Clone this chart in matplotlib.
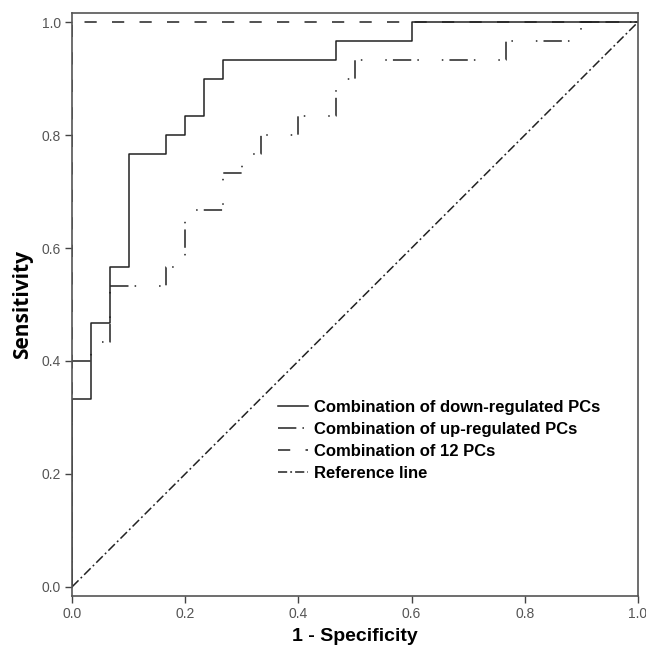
import matplotlib
matplotlib.use("Agg")
import matplotlib.pyplot as plt

# ROC curve data (steps of 1/30)
down_fpr = [0, 0, 1/30, 1/30, 2/30, 2/30, 3/30, 3/30, 5/30, 5/30, 6/30, 6/30,
            7/30, 7/30, 8/30, 8/30, 14/30, 14/30, 18/30, 18/30, 1.0]
down_tpr = [0, 10/30, 10/30, 14/30, 14/30, 17/30, 17/30, 23/30, 23/30, 24/30, 24/30, 25/30,
            25/30, 27/30, 27/30, 28/30, 28/30, 29/30, 29/30, 1.0, 1.0]

up_fpr = [0, 0, 1/30, 1/30, 2/30, 2/30, 5/30, 5/30, 6/30, 6/30, 8/30, 8/30, 9/30, 9/30,
          10/30, 10/30, 12/30, 12/30, 14/30, 14/30, 15/30, 15/30, 23/30, 23/30, 27/30, 27/30, 1.0]
up_tpr = [0, 12/30, 12/30, 13/30, 13/30, 16/30, 16/30, 17/30, 17/30, 20/30, 20/30, 22/30, 22/30, 23/30,
          23/30, 24/30, 24/30, 25/30, 25/30, 27/30, 27/30, 28/30, 28/30, 29/30, 29/30, 1.0, 1.0]

all_fpr = [0, 0, 1.0]
all_tpr = [0, 1.0, 1.0]

ref_x = [0, 1]
ref_y = [0, 1]

labels = ["Combination of down-regulated PCs", "Combination of up-regulated PCs",
          "Combination of 12 PCs", "Reference line"]
ticks = [0.0, 0.2, 0.4, 0.6, 0.8, 1.0]

plt.rcParams['font.family'] = ['Liberation Sans', 'DejaVu Sans']

fig = plt.figure(figsize=(6.46, 6.57), dpi=100)
ax = fig.add_axes([0.1115, 0.093, 0.876, 0.887])

lc = '#222222'
ax.plot(down_fpr, down_tpr, color=lc, lw=1.1, label=labels[0])
ax.plot(up_fpr, up_tpr, color=lc, lw=1.1, linestyle=(0, (12, 4, 1, 15, 1, 4)), label=labels[1])
ax.plot(all_fpr, all_tpr, color=lc, lw=1.1, linestyle=(0, (8, 10)), label=labels[2])
ax.plot(ref_x, ref_y, color=lc, lw=1.1, linestyle=(0, (6, 2, 1.2, 2)), label=labels[3])

ax.set_xlim(0, 1)
ax.set_ylim(-0.016, 1.016)
ax.set_xticks(ticks)
ax.set_yticks(ticks)
ax.set_xticklabels([f"{t:.1f}" for t in ticks])
ax.set_yticklabels([f"{t:.1f}" for t in ticks])
ax.tick_params(direction='out', length=5, width=1, colors='#444444', labelsize=10,
               labelcolor='#555555', pad=3)
for s in ax.spines.values():
    s.set_color('#555555')
    s.set_linewidth(1.2)

ax.set_xlabel("1 - Specificity", fontsize=14, fontweight='bold', labelpad=5)
ax.set_ylabel("Sensitivity", fontsize=15, fontweight='bold', labelpad=6,
              family=['Open Sans', 'DejaVu Sans'])

leg = ax.legend(loc='upper left', bbox_to_anchor=(0.337, 0.362), frameon=False,
                handlelength=1.8, handletextpad=0.4, labelspacing=0.42,
                prop={'weight': 'bold', 'size': 12})

fig.savefig("out.png", dpi=100)
